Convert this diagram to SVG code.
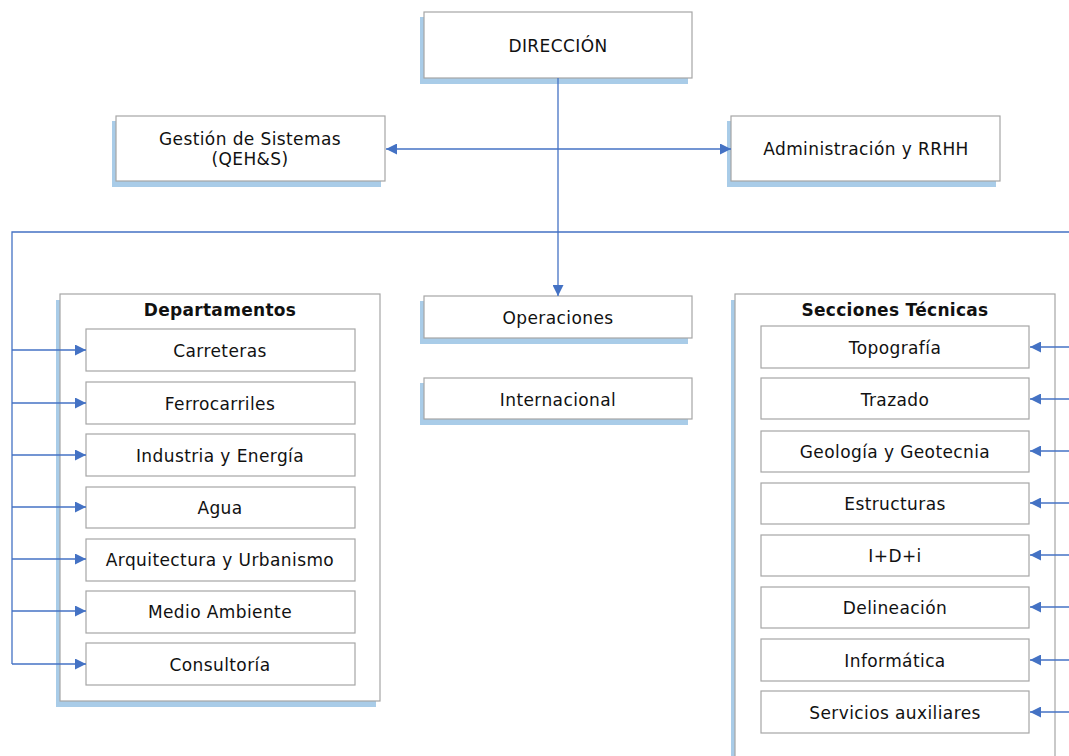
<svg xmlns="http://www.w3.org/2000/svg" width="1069" height="756" viewBox="0 0 1069 756">
<style>
.box{fill:#fff;stroke:#a6a6a6;stroke-width:1.2}
.sh{fill:#a9cce8}
.t{font-family:"DejaVu Sans",Verdana,sans-serif;font-size:17px;letter-spacing:0.4px;fill:#111;text-anchor:middle;dominant-baseline:central}
.b{font-weight:bold;letter-spacing:0.3px}
.ln{stroke:#4472c4;stroke-width:1.3;fill:none}
</style>
<defs>
<marker id="ar" viewBox="0 0 10 10" refX="10" refY="5" markerWidth="12" markerHeight="11" markerUnits="userSpaceOnUse" orient="auto-start-reverse">
<path d="M0,0 L10,5 L0,10 z" fill="#4472c4"/>
</marker>
</defs>
<rect width="1069" height="756" fill="#fff"/>
<g id="direccion">
<rect class="sh" x="420" y="17" width="268" height="67"/>
<rect class="box" x="424" y="12" width="268" height="66"/>
<text class="t" x="558" y="46">DIRECCIÓN</text>
</g>
<g id="gestion">
<rect class="sh" x="112" y="121" width="269" height="66"/>
<rect class="box" x="116" y="116" width="269" height="65"/>
<text class="t" x="250" y="139">Gestión de Sistemas</text>
<text class="t" x="250" y="159">(QEH&amp;S)</text>
</g>
<g id="admin">
<rect class="sh" x="727" y="121" width="269" height="66"/>
<rect class="box" x="731" y="116" width="269" height="65"/>
<text class="t" x="866" y="149">Administración y RRHH</text>
</g>
<g id="operaciones">
<rect class="sh" x="420" y="301" width="268" height="43"/>
<rect class="box" x="424" y="296" width="268" height="42"/>
<text class="t" x="558" y="318">Operaciones</text>
</g>
<g id="internacional">
<rect class="sh" x="420" y="383" width="268" height="42"/>
<rect class="box" x="424" y="378" width="268" height="41"/>
<text class="t" x="558" y="400">Internacional</text>
</g>
<g id="departamentos">
<rect class="sh" x="56" y="300" width="320" height="407"/>
<rect class="box" x="60" y="294" width="320" height="407"/>
<text class="t b" x="220" y="310">Departamentos</text>
</g>
<g id="carreteras"><rect class="box" x="86" y="329" width="269" height="42"/><text class="t" x="220" y="351">Carreteras</text></g>
<g id="ferrocarriles"><rect class="box" x="86" y="382" width="269" height="42"/><text class="t" x="220" y="404">Ferrocarriles</text></g>
<g id="industria"><rect class="box" x="86" y="434" width="269" height="42"/><text class="t" x="220" y="456">Industria y Energía</text></g>
<g id="agua"><rect class="box" x="86" y="487" width="269" height="41"/><text class="t" x="220" y="508">Agua</text></g>
<g id="arquitectura"><rect class="box" x="86" y="539" width="269" height="42"/><text class="t" x="220" y="560">Arquitectura y Urbanismo</text></g>
<g id="medioambiente"><rect class="box" x="86" y="591" width="269" height="42"/><text class="t" x="220" y="612">Medio Ambiente</text></g>
<g id="consultoria"><rect class="box" x="86" y="643" width="269" height="42"/><text class="t" x="220" y="665">Consultoría</text></g>
<g id="secciones">
<rect class="sh" x="731" y="300" width="320" height="470"/>
<rect class="box" x="735" y="294" width="320" height="470"/>
<text class="t b" x="895" y="310">Secciones Técnicas</text>
</g>
<g id="topografia"><rect class="box" x="761" y="326" width="268" height="42"/><text class="t" x="895" y="348">Topografía</text></g>
<g id="trazado"><rect class="box" x="761" y="378" width="268" height="41"/><text class="t" x="895" y="400">Trazado</text></g>
<g id="geologia"><rect class="box" x="761" y="431" width="268" height="41"/><text class="t" x="895" y="452">Geología y Geotecnia</text></g>
<g id="estructuras"><rect class="box" x="761" y="483" width="268" height="41"/><text class="t" x="895" y="504">Estructuras</text></g>
<g id="idi"><rect class="box" x="761" y="535" width="268" height="41"/><text class="t" x="895" y="556">I+D+i</text></g>
<g id="delineacion"><rect class="box" x="761" y="587" width="268" height="41"/><text class="t" x="895" y="608">Delineación</text></g>
<g id="informatica"><rect class="box" x="761" y="639" width="268" height="42"/><text class="t" x="895" y="661">Informática</text></g>
<g id="servicios"><rect class="box" x="761" y="691" width="268" height="42"/><text class="t" x="895" y="713">Servicios auxiliares</text></g>
<g id="connectors">
<path class="ln" d="M558,78 V296" marker-end="url(#ar)"/>
<path class="ln" d="M386,149 H731" marker-start="url(#ar)" marker-end="url(#ar)"/>
<path class="ln" d="M12,664 V232 H1069"/>
<path class="ln" d="M12,350 H86" marker-end="url(#ar)"/>
<path class="ln" d="M12,403 H86" marker-end="url(#ar)"/>
<path class="ln" d="M12,455 H86" marker-end="url(#ar)"/>
<path class="ln" d="M12,507 H86" marker-end="url(#ar)"/>
<path class="ln" d="M12,559 H86" marker-end="url(#ar)"/>
<path class="ln" d="M12,611 H86" marker-end="url(#ar)"/>
<path class="ln" d="M12,664 H86" marker-end="url(#ar)"/>
<path class="ln" d="M1069,347 H1030" marker-end="url(#ar)"/>
<path class="ln" d="M1069,399 H1030" marker-end="url(#ar)"/>
<path class="ln" d="M1069,451 H1030" marker-end="url(#ar)"/>
<path class="ln" d="M1069,503 H1030" marker-end="url(#ar)"/>
<path class="ln" d="M1069,555 H1030" marker-end="url(#ar)"/>
<path class="ln" d="M1069,607 H1030" marker-end="url(#ar)"/>
<path class="ln" d="M1069,660 H1030" marker-end="url(#ar)"/>
<path class="ln" d="M1069,712 H1030" marker-end="url(#ar)"/>
</g>
</svg>
